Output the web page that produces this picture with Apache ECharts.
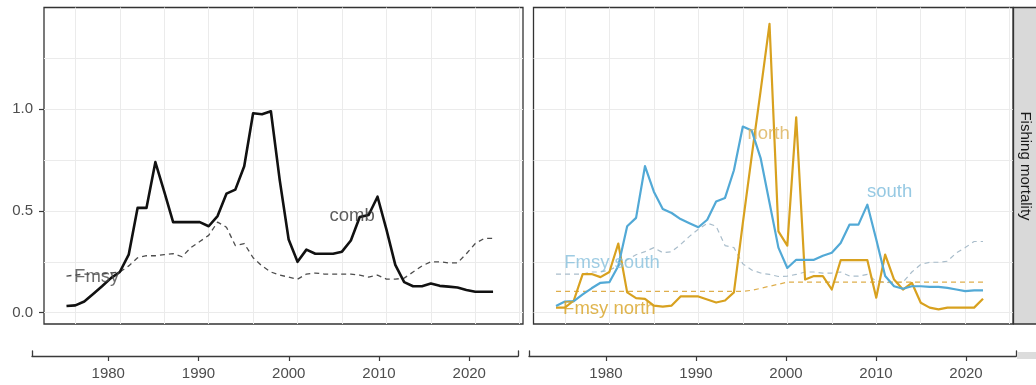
<!DOCTYPE html>
<html>
<head>
<meta charset="utf-8">
<script src="https://cdn.jsdelivr.net/npm/echarts@6/dist/echarts.min.js"></script>
<style>
  html, body { margin: 0; padding: 0; background: #ffffff; }
  #chart { width: 1036px; height: 385px; }
</style>
</head>
<body>
<div id="chart"></div>
<script>
// Fishing mortality by year: combined stock (left) and north / south components (right)
const years = [1974, 1975, 1976, 1977, 1978, 1979, 1980, 1981, 1982, 1983,
               1984, 1985, 1986, 1987, 1988, 1989, 1990, 1991, 1992, 1993,
               1994, 1995, 1996, 1997, 1998, 1999, 2000, 2001, 2002, 2003,
               2004, 2005, 2006, 2007, 2008, 2009, 2010, 2011, 2012, 2013,
               2014, 2015, 2016, 2017, 2018, 2019, 2020, 2021, 2022];

const comb = [0.033, 0.036, 0.055, 0.092, 0.13, 0.17, 0.20, 0.285, 0.515, 0.515,
              0.74, 0.595, 0.445, 0.445, 0.445, 0.445, 0.425, 0.475, 0.585, 0.605,
              0.72, 0.98, 0.975, 0.99, 0.65, 0.36, 0.25, 0.31, 0.29, 0.29,
              0.29, 0.30, 0.355, 0.47, 0.48, 0.57, 0.41, 0.235, 0.15, 0.13,
              0.13, 0.143, 0.132, 0.128, 0.124, 0.112, 0.103, 0.103, 0.103];

const fmsy = [0.18, 0.185, 0.19, 0.19, 0.19, 0.195, 0.20, 0.23, 0.27, 0.28,
              0.28, 0.285, 0.29, 0.275, 0.32, 0.35, 0.38, 0.445, 0.42, 0.33,
              0.34, 0.27, 0.23, 0.20, 0.185, 0.175, 0.165, 0.19, 0.195, 0.19,
              0.19, 0.19, 0.19, 0.185, 0.175, 0.185, 0.165, 0.165, 0.17, 0.20,
              0.23, 0.25, 0.25, 0.245, 0.245, 0.29, 0.34, 0.365, 0.365];

const south = [0.033, 0.055, 0.057, 0.09, 0.12, 0.147, 0.15, 0.23, 0.425, 0.466,
               0.72, 0.595, 0.51, 0.49, 0.46, 0.44, 0.42, 0.457, 0.547, 0.564,
               0.70, 0.915, 0.895, 0.76, 0.54, 0.32, 0.22, 0.26, 0.26, 0.26,
               0.28, 0.295, 0.343, 0.433, 0.433, 0.531, 0.36, 0.18, 0.13, 0.118,
               0.13, 0.13, 0.127, 0.127, 0.122, 0.114, 0.106, 0.11, 0.11];

const north = [0.025, 0.025, 0.06, 0.19, 0.19, 0.175, 0.20, 0.34, 0.10, 0.072,
               0.068, 0.035, 0.03, 0.035, 0.08, 0.08, 0.08, 0.065, 0.05, 0.06,
               0.10, 0.44, 0.77, 1.09, 1.42, 0.40, 0.33, 0.96, 0.163, 0.18,
               0.18, 0.114, 0.258, 0.258, 0.258, 0.258, 0.074, 0.286, 0.163, 0.114,
               0.147, 0.049, 0.025, 0.016, 0.025, 0.025, 0.025, 0.025, 0.069];

const fmsySouth = [0.19, 0.19, 0.19, 0.19, 0.20, 0.20, 0.21, 0.23, 0.26, 0.285,
                   0.30, 0.32, 0.295, 0.30, 0.335, 0.375, 0.41, 0.44, 0.425, 0.33,
                   0.32, 0.24, 0.21, 0.195, 0.188, 0.178, 0.18, 0.188, 0.20, 0.20,
                   0.195, 0.195, 0.20, 0.18, 0.18, 0.188, 0.155, 0.15, 0.147, 0.15,
                   0.20, 0.237, 0.248, 0.248, 0.253, 0.294, 0.32, 0.35, 0.35];

const fmsyNorth = [0.105, 0.105, 0.105, 0.105, 0.105, 0.105, 0.105, 0.105, 0.105, 0.105,
                   0.105, 0.105, 0.105, 0.105, 0.105, 0.105, 0.105, 0.105, 0.105, 0.105,
                   0.105, 0.105, 0.11, 0.12, 0.13, 0.14, 0.15, 0.15, 0.15, 0.15,
                   0.15, 0.15, 0.15, 0.15, 0.15, 0.15, 0.15, 0.15, 0.15, 0.15,
                   0.15, 0.15, 0.15, 0.15, 0.15, 0.15, 0.15, 0.15, 0.15];

// Axis breaks
const yTickValues = [0, 0.5, 1.0];
const yGridValues = [0, 0.25, 0.5, 0.75, 1.0, 1.25];
const xGridValues = [1975, 1980, 1985, 1990, 1995, 2000, 2005, 2010, 2015, 2020, 2025];
const xTickValues = [1980, 1990, 2000, 2010, 2020];

// Direct line labels: [year, value, text]
const combLabels = [[2006.15, 0.475, 'comb'], [1977.4, 0.175, 'Fmsy']];
const regionLabels = [[1997.9, 0.88, 'north'], [2011.5, 0.595, 'south'],
                      [1980.3, 0.244, 'Fmsy south'], [1980.0, 0.021, 'Fmsy north']];

const FONT = "'Liberation Sans', Arial, sans-serif";
const X_MIN = 1971.47, X_MAX = 2025.37;
const Y_MIN = -0.0555, Y_MAX = 1.5;

const pairs = (vals) => years.map((y, i) => [y, vals[i]]);

const labelColors = {
  'comb': '#353535', 'Fmsy': '#474747',
  'north': '#dcb257', 'south': '#7cbbdc',
  'Fmsy south': '#86bfdc', 'Fmsy north': '#d8a222'
};

function labelSeries(items, gridIdx, yIdx) {
  return {
    type: 'scatter', xAxisIndex: gridIdx, yAxisIndex: yIdx, silent: true, z: 5,
    symbol: 'circle', symbolSize: 1, itemStyle: { color: 'transparent' },
    data: items.map(d => ({
      value: [d[0], d[1]], name: d[2],
      label: { color: labelColors[d[2]] }
    })),
    label: {
      show: true, position: 'inside', formatter: '{b}',
      fontFamily: FONT, fontSize: 18.5, align: 'center', verticalAlign: 'middle'
    }
  };
}

function lineSeries(vals, xIdx, yIdx, color, width, dashed) {
  return {
    type: 'line', xAxisIndex: xIdx, yAxisIndex: yIdx, data: pairs(vals),
    showSymbol: false, symbol: 'none', silent: true,
    lineStyle: { color: color, width: width, type: dashed ? [5, 4] : 'solid',
                 join: 'round', cap: 'butt' }
  };
}

const gridXAxis = (gi) => ({
  type: 'value', gridIndex: gi, min: X_MIN, max: X_MAX,
  axisLine: { show: false },
  axisTick: { show: false, customValues: xGridValues },
  axisLabel: { show: false },
  splitLine: { show: true, lineStyle: { color: '#ebebeb', width: 1 } }
});
const gridYAxis = (gi) => ({
  type: 'value', gridIndex: gi, min: Y_MIN, max: Y_MAX, position: 'left',
  axisLine: { show: false },
  axisTick: { show: false, customValues: yGridValues },
  axisLabel: { show: false },
  splitLine: { show: true, lineStyle: { color: '#ebebeb', width: 1 } }
});
const bottomXAxis = (gi, min, max) => ({
  type: 'value', gridIndex: gi, min: min, max: max, position: 'bottom',
  axisLine: { show: true, lineStyle: { color: '#3a3a3a', width: 1.3 } },
  axisTick: { show: true, length: 5, customValues: xTickValues,
              lineStyle: { color: '#3a3a3a', width: 1.2 } },
  axisLabel: { show: true, customValues: xTickValues, margin: 10,
               formatter: v => String(v),
               color: '#4d4d4d', fontSize: 15, fontFamily: FONT },
  splitLine: { show: false }
});
const capYAxis = (gi, pos) => ({
  type: 'value', gridIndex: gi, min: 0, max: 1, position: pos,
  axisLine: { show: true, lineStyle: { color: '#3a3a3a', width: 1.3 } },
  axisTick: { show: false }, axisLabel: { show: false }, splitLine: { show: false }
});

const option = {
  animation: false,
  backgroundColor: '#ffffff',
  grid: [
    { left: 44, top: 7.5, width: 479, height: 316.5, show: true,
      backgroundColor: '#ffffff', borderColor: '#333333', borderWidth: 1.3 },
    { left: 533.5, top: 7.5, width: 479.5, height: 316.5, show: true,
      backgroundColor: '#ffffff', borderColor: '#333333', borderWidth: 1.3 },
    { left: 32, top: 351, width: 486, height: 5 },
    { left: 529, top: 351, width: 487, height: 5 }
  ],
  xAxis: [
    gridXAxis(0),
    gridXAxis(1),
    bottomXAxis(2, 1971.55, 2025.4),
    bottomXAxis(3, 1971.44, 2025.56)
  ],
  yAxis: [
    gridYAxis(0),
    {
      type: 'value', gridIndex: 0, min: Y_MIN, max: Y_MAX, position: 'left',
      axisLine: { show: false },
      axisTick: { show: true, length: 5, customValues: yTickValues,
                  lineStyle: { color: '#3a3a3a', width: 1.2 } },
      axisLabel: { show: true, customValues: yTickValues, margin: 11,
                   formatter: v => v.toFixed(1),
                   color: '#4d4d4d', fontSize: 15, fontFamily: FONT },
      splitLine: { show: false }
    },
    gridYAxis(1),
    capYAxis(2, 'left'), capYAxis(2, 'right'),
    capYAxis(3, 'left'), capYAxis(3, 'right')
  ],
  series: [
    lineSeries(fmsy, 0, 0, '#4d4d4d', 1.3, true),
    lineSeries(comb, 0, 0, '#111111', 2.6, false),
    labelSeries(combLabels, 0, 0),

    lineSeries(fmsySouth, 1, 2, '#a9bdcb', 1.2, true),
    lineSeries(fmsyNorth, 1, 2, '#deae4c', 1.2, true),
    lineSeries(north, 1, 2, '#d8a11f', 2.2, false),
    lineSeries(south, 1, 2, '#52a9d6', 2.2, false),
    labelSeries(regionLabels, 1, 2)
  ],
  graphic: [
    { type: 'rect', silent: true, z: 10,
      shape: { x: 1013.5, y: 7.5, width: 30, height: 316.5 },
      style: { fill: '#d9d9d9', stroke: '#333333', lineWidth: 1.3 } },
    { type: 'text', silent: true, z: 11, x: 1025.5, y: 166, rotation: -Math.PI / 2,
      style: { text: 'Fishing mortality', fill: '#1a1a1a', font: '15px ' + FONT,
               align: 'center', verticalAlign: 'middle' } },
    { type: 'rect', silent: true, z: 10,
      shape: { x: 1017, y: 352, width: 22, height: 7 },
      style: { fill: '#dcdcdc' } }
  ]
};

const chart = echarts.init(document.getElementById('chart'), null, { renderer: 'canvas' });
chart.setOption(option);
</script>
</body>
</html>
